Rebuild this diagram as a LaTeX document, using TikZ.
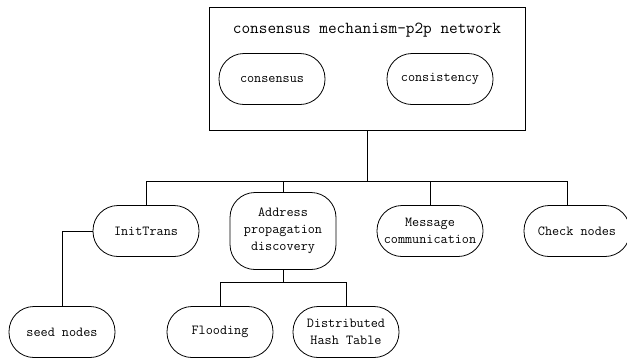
\documentclass[tikz,border=0pt]{standalone}
\usepackage{fontspec}

\begin{document}
\begin{tikzpicture}[x=1pt,y=-1pt,line width=0.8pt,
    pill/.style={draw,rounded corners=25pt,minimum width=106pt,minimum height=51pt,
        inner sep=1pt,align=center,font=\ttfamily\fontsize{13.8}{17}\selectfont}]
    \useasboundingbox (0,0) rectangle (627,360);
    % top box with the two inner pills
    \node[draw,line width=1pt,minimum width=316pt,minimum height=123pt] (net) at (367,68.5) {};
    \node[font=\ttfamily\fontsize{16.8}{19}\selectfont] (title) at (367,30) {consensus mechanism—p2p network};
    \node[pill] (cons) at (272,79) {consensus};
    \node[pill] (consist) at (440,79) {consistency};

    % second row
    \node[pill] (init) at (146,231) {InitTrans};
    \node[pill,minimum height=77pt] (addr) at (283,231) {Address\\propagation\\discovery};
    \node[pill] (msg) at (430,231) {Message\\communication};
    \node[pill] (check) at (577,231) {Check nodes};

    % third row
    \node[pill] (seed) at (62,332) {seed nodes};
    \node[pill] (flood) at (220,332) {Flooding};
    \node[pill] (dht) at (346,332) {Distributed\\Hash Table};

    \draw (net.south) -- ++(0,51) coordinate (bus);
    \foreach \n in {init, addr, msg}
        \draw (bus) -| (\n.north);
    \draw (bus) -| ([xshift=-10pt]check.north);
    \draw (init.west) -| (seed.north);
    \draw (addr.south) -- ++(0,12) coordinate (sub);
    \foreach \n in {flood, dht}
        \draw (sub) -| (\n.north);
\end{tikzpicture}
\end{document}
